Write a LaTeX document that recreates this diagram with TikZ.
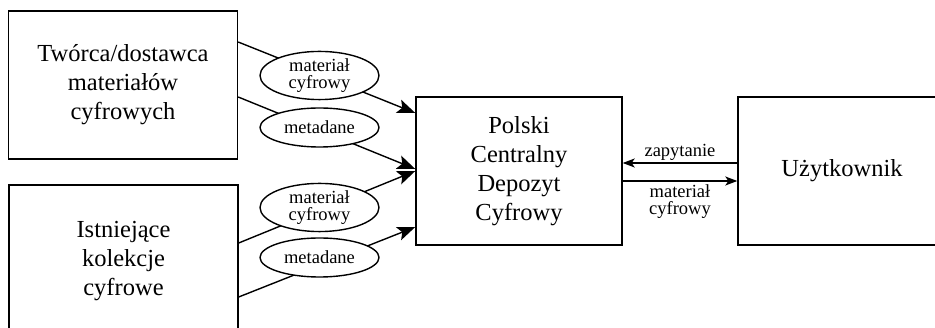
\documentclass[tikz,border=0pt]{standalone}
\usepackage{fontspec}
\setmainfont{Liberation Serif}
\usetikzlibrary{arrows.meta,shapes.geometric}
\begin{document}
\begin{tikzpicture}[x=1pt,y=-1pt,
  box/.style={draw,line width=1.4pt,rectangle,inner sep=0pt,align=center,
    font=\fontsize{24.5}{29}\selectfont},
  tag/.style={draw,fill=white,ellipse,line width=1.4pt,inner sep=0pt,
    minimum width=119pt,align=center,font=\fontsize{18.5}{17.2}\selectfont},
  flow/.style={line width=1.4pt,-{Stealth[length=18pt,width=14pt,inset=4pt]}},
  link/.style={line width=1.4pt,-{Stealth[length=12pt,width=9pt,inset=3pt]}},
  lbl/.style={font=\fontsize{18.5}{17.2}\selectfont,align=center,inner sep=0pt}
]
\useasboundingbox (0,0) rectangle (935,328);
\clip (0,0) rectangle (935,328);

% sources, repository and user
\node[box,minimum width=229pt,minimum height=148pt] (src) at (123,85)
  {Twórca/dostawca\\materiałów\\cyfrowych};
\node[box,minimum width=229pt,minimum height=152pt] (col) at (123.5,261)
  {Istniejące\\kolekcje\\cyfrowe};
\node[box,minimum width=206pt,minimum height=148pt] (dep) at (519,171)
  {Polski\\Centralny\\Depozyt\\Cyfrowy};
\node[box,minimum width=208pt,minimum height=148pt] (usr) at (842,171)
  {Użytkownik};

% attachment points on the box borders
\coordinate (s1) at (src.east |- 0,42);
\coordinate (s2) at (src.east |- 0,97);
\coordinate (s3) at (col.east |- 0,243);
\coordinate (s4) at (col.east |- 0,297);
\coordinate (t1) at (dep.west |- 0,113);
\coordinate (t2) at (dep.west |- 0,169);
\coordinate (t3) at (dep.west |- 0,171);
\coordinate (t4) at (dep.west |- 0,227);

% deliveries into the repository
\draw[flow] (s1) -- (t1);
\draw[flow] (s2) -- (t2);
\draw[flow] (s3) -- (t3);
\draw[flow] (s4) -- (t4);

% labels riding on the deliveries
\node[tag,minimum height=46pt] (m1) at (319.5,75.5) {materiał\\cyfrowy};
\node[tag,minimum height=39pt] (d1) at (319.5,127.5) {metadane};
\node[tag,minimum height=46pt] (m2) at (319.5,207.5) {materiał\\cyfrowy};
\node[tag,minimum height=39pt] (d2) at (319.5,257.5) {metadane};

% query and answer between repository and user
\draw[link] (usr.west |- 0,163) -- (dep.east |- 0,163);
\draw[link] (dep.east |- 0,181) -- (usr.west |- 0,181);
\node[lbl,anchor=base] (q) at (680,157) {zapytanie};
\node[lbl,anchor=north] (a) at (680,184) {materiał\\cyfrowy};
\end{tikzpicture}
\end{document}
